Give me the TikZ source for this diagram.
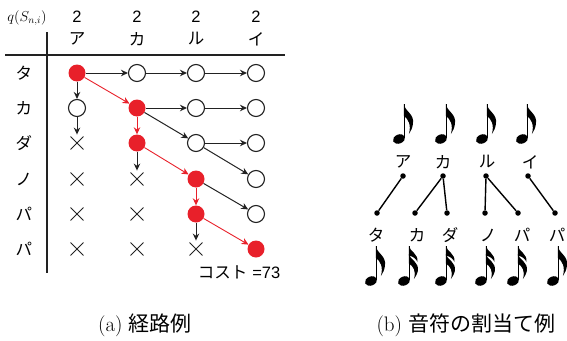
\documentclass[tikz,border=0pt]{standalone}
\usepackage{fontspec}
\newfontfamily\jp{Noto Sans CJK JP}
\newfontfamily\hv{Liberation Sans}
\usetikzlibrary{shapes.misc,arrows.meta}
\definecolor{pathred}{HTML}{E8202A}
\definecolor{ink}{HTML}{222222}
\tikzset{
  st/.style={circle, draw=ink, line width=1.1pt, minimum size=17pt, inner sep=0pt, fill=white},
  rd/.style={circle, fill=pathred, minimum size=17pt, inner sep=0pt},
  xm/.style={cross out, draw=ink, line width=0.9pt, minimum size=12pt, inner sep=0pt},
  ar/.style={-{Stealth[length=7pt,width=6.5pt]}, line width=1pt, draw=ink},
  ra/.style={-{Stealth[length=7pt,width=6.5pt]}, line width=0.9pt, draw=pathred},
  kana/.style={font=\jp\fontsize{16.5}{17}\selectfont, inner sep=0pt},
  num/.style={font=\hv\fontsize{16.5}{17}\selectfont, inner sep=0pt},
  dot/.style={circle, fill=black, minimum size=5.5pt, inner sep=0pt},
  link/.style={line width=1.4pt},
  captext/.style={font=\fontsize{21}{23}\selectfont, inner sep=0pt},
  flag/.pic={\fill (0,0) .. controls (0.5,7) and (11,10) .. (9,20) .. controls (8.5,24) and (7,27) .. (5,30) .. controls (7.5,21) and (4.5,15) .. (0,12) -- cycle;},
  flagA/.pic={\fill (0,0) .. controls (0.5,5) and (10,8) .. (8.5,16) .. controls (7.5,13) and (4.5,10.5) .. (0,9.5) -- cycle;},
  flagB/.pic={\fill (0,0) .. controls (0.5,5) and (10.5,8) .. (9,17) .. controls (8.5,20) and (7,22) .. (5,25) .. controls (7.5,17) and (4.5,12.5) .. (0,9.5) -- cycle;},
  eighth/.pic={
    \fill[rotate=22] (0,0) ellipse[x radius=6.3pt, y radius=4.5pt];
    \draw[line width=1.2pt] (5.4,-1) -- (5.4,-35);
    \pic at (4.9,-35) {flag};
  },
  sixteenth/.pic={
    \fill[rotate=22] (0,0) ellipse[x radius=6.3pt, y radius=4.5pt];
    \draw[line width=1.2pt] (5.4,-1) -- (5.4,-35);
    \pic at (4.9,-35) {flagA};
    \pic at (4.9,-27) {flagB};
  }
}
\begin{document}
\begin{tikzpicture}[x=1pt,y=-1pt]
\useasboundingbox (0,0) rectangle (567,340);

% ---------- (a) table ----------
\node[inner sep=0pt, font=\fontsize{14}{14}\selectfont] (qlab) at (27,18) {$q(S_{n,i})$};
\foreach \x/\k [count=\c] in {77/ア,137/カ,196/ル,256/イ}{
  \node[num] (h\c) at (\x,17) {2};
  \node[kana] (k\c) at (\x,39) {\k};
}
\foreach \y/\k [count=\r] in {73/タ,108/カ,143/ダ,179/ノ,214/パ,249/パ}{
  \node[kana] (r\r) at (24,\y) {\k};
}
\coordinate (hl) at (5,55);
\coordinate (hr) at (285,55);
\coordinate (vt) at (47,32);
\coordinate (vb) at (47,273);
\draw[line width=1.4pt, ink] (hl) -- (hr);
\draw[line width=1.4pt, ink] (vt) -- (vb);

% row 1
\node[rd] (n11) at (77,73) {};
\node[st] (n12) at (137,73) {};
\node[st] (n13) at (196,73) {};
\node[st] (n14) at (256,73) {};
% row 2
\node[st] (n21) at (77,108) {};
\node[rd] (n22) at (137,108) {};
\node[st] (n23) at (196,108) {};
\node[st] (n24) at (256,108) {};
% row 3
\node[xm] (n31) at (77,143) {};
\node[rd] (n32) at (137,143) {};
\node[st] (n33) at (196,143) {};
\node[st] (n34) at (256,143) {};
% row 4
\node[xm] (n41) at (77,179) {};
\node[xm] (n42) at (137,179) {};
\node[rd] (n43) at (196,179) {};
\node[st] (n44) at (256,179) {};
% row 5
\node[xm] (n51) at (77,214) {};
\node[xm] (n52) at (137,214) {};
\node[rd] (n53) at (196,214) {};
\node[st] (n54) at (256,214) {};
% row 6
\node[xm] (n61) at (77,249) {};
\node[xm] (n62) at (137,249) {};
\node[xm] (n63) at (196,249) {};
\node[rd] (n64) at (256,249) {};

% black edges
\draw[ar] (n11) -- (n12);
\draw[ar] (n12) -- (n13);
\draw[ar] (n13) -- (n14);
\draw[ar] (n11) -- (n21);
\draw[ar, shorten >=2pt] (n21) -- (n31);
\draw[ar] (n22) -- (n23);
\draw[ar] (n23) -- (n24);
\draw[ar] (n22) -- (n33);
\draw[ar] (n33) -- (n34);
\draw[ar] (n33) -- (n44);
\draw[ar, shorten >=2pt] (n32) -- (n42);
\draw[ar] (n43) -- (n54);
\draw[ar, shorten >=2pt] (n53) -- (n63);
% red path
\draw[ra] (n11) -- (n22);
\draw[ra] (n22) -- (n32);
\draw[ra] (n32) -- (n43);
\draw[ra] (n43) -- (n53);
\draw[ra] (n53) -- (n64);

\node[inner sep=0pt, font=\fontsize{16.5}{17}\selectfont] (cost) at (239,272) {{\jp コスト}\ {\hv =73}};

% ---------- (b) notes ----------
\foreach \x in {399,441,482,522}{ \pic at (\x,139) {eighth}; }
\pic at (371,281) {eighth};
\pic at (404,281) {sixteenth};
\pic at (441,281) {sixteenth};
\pic at (481,281) {sixteenth};
\pic at (513,281) {sixteenth};
\pic at (553,281) {eighth};

\foreach \x/\k [count=\i] in {403/ア,443/カ,487/ル,530/イ}{
  \node[kana] (t\i) at (\x,162) {\k};
}
\foreach \x/\k [count=\i] in {376/タ,417/カ,450/ダ,488/ノ,522/パ,557/パ}{
  \node[kana] (b\i) at (\x,235) {\k};
}
\node[dot] (ta) at (403,176) {};
\node[dot] (tb) at (443,176) {};
\node[dot] (tc) at (486,176) {};
\node[dot] (td) at (528,176) {};
\node[dot] (ba) at (377,213) {};
\node[dot] (bb) at (415,213) {};
\node[dot] (bc) at (447,213) {};
\node[dot] (bd) at (485,213) {};
\node[dot] (be) at (518,213) {};
\node[dot] (bf) at (555,213) {};
\draw[link] (ta) -- (ba);
\draw[link] (tb) -- (bb);
\draw[link] (tb) -- (bc);
\draw[link] (tc) -- (bd);
\draw[link] (tc) -- (be);
\draw[link] (td) -- (bf);

% ---------- captions ----------
\node[captext] (capa) at (145,325) {(a) {\jp 経路例}};
\node[captext] (capb) at (466,325) {(b) {\jp 音符の割当て例}};
\end{tikzpicture}
\end{document}
